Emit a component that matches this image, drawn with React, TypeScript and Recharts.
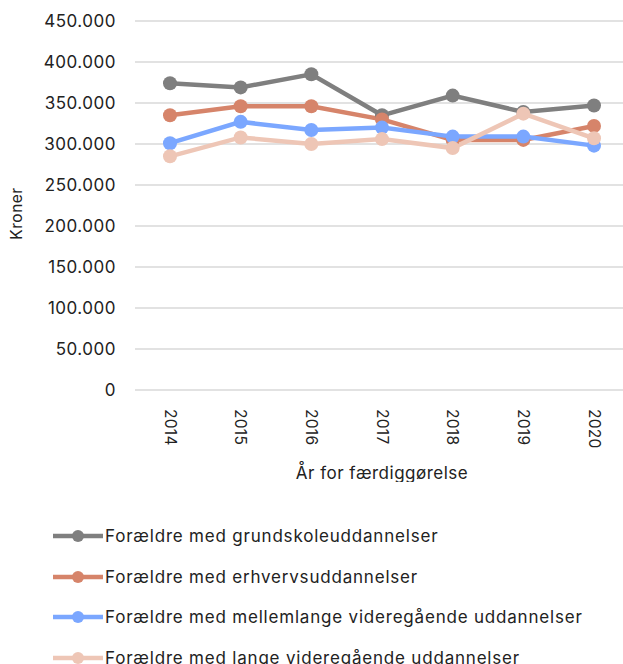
import { LineChart, Line, XAxis, YAxis, CartesianGrid, Label } from 'recharts';

const years = ['2014', '2015', '2016', '2017', '2018', '2019', '2020'];
const grundskole = [374000, 369000, 385000, 335000, 359000, 339000, 347000];
const erhverv = [335000, 346000, 346000, 330000, 305000, 305000, 322000];
const mellemlange = [301000, 327000, 317000, 320000, 309000, 309000, 298000];
const lange = [285000, 308000, 300000, 306000, 295000, 337000, 307000];
const yTicks = [0, 50000, 100000, 150000, 200000, 250000, 300000, 350000, 400000, 450000];

const SERIES = [
  { key: 'grundskole', name: 'Forældre med grundskoleuddannelser', color: '#7f7f7f', values: grundskole },
  { key: 'erhverv', name: 'Forældre med erhvervsuddannelser', color: '#d6846a', values: erhverv },
  { key: 'mellemlange', name: 'Forældre med mellemlange videregående uddannelser', color: '#7ba7ff', values: mellemlange },
  { key: 'lange', name: 'Forældre med lange videregående uddannelser', color: '#eec6b6', values: lange },
];

const data = years.map((y, i) => {
  const row: any = { year: y };
  SERIES.forEach((s) => { row[s.key] = s.values[i]; });
  return row;
});

const FONT = 'Inter, "Noto Sans", sans-serif';
const fmt = (v: number) => String(v).replace(/\B(?=(\d{3})+(?!\d))/g, '.');

function YearTick(props: any) {
  const { x, y, payload } = props;
  return (
    <text x={x} y={y} transform={`rotate(90, ${x}, ${y})`} textAnchor="start" dominantBaseline="central"
      fontSize={15.5} fill="#222" fontFamily={FONT} letterSpacing={0.3}>
      {payload.value}
    </text>
  );
}

function KronerLabel(props: any) {
  const { viewBox } = props;
  const cx = 16;
  const cy = viewBox.y + viewBox.height / 2 + 8;
  return (
    <text x={cx} y={cy} transform={`rotate(-90, ${cx}, ${cy})`} textAnchor="middle" dominantBaseline="central"
      fontSize={15.5} fill="#222" fontFamily={FONT} letterSpacing={0.5}>
      Kroner
    </text>
  );
}

export default function App() {
  return (
    <div style={{ position: 'absolute', left: 0, top: 0, width: 623, height: 664, overflow: 'hidden', background: '#fff', fontFamily: FONT }}>
      <LineChart width={640} height={482} data={data} margin={{ top: 21, right: 11, left: 0, bottom: 0 }}>
        <CartesianGrid vertical={false} stroke="#d9d9d9" strokeWidth={1.4} />
        <XAxis dataKey="year" axisLine={false} tickLine={false} height={92} tickMargin={13} tick={<YearTick />}
          interval={0} padding={{ left: 35, right: 35 }}>
          <Label value="År for færdiggørelse" position="insideBottom" offset={3} fontSize={17} fill="#222"
            fontFamily={FONT} letterSpacing={0.5} />
        </XAxis>
        <YAxis domain={[0, 450000]} ticks={yTicks} tickFormatter={fmt} axisLine={false} tickLine={false} width={135}
          tickMargin={13} tick={{ fontSize: 17, fill: '#222', fontFamily: FONT, letterSpacing: 0.5 }} interval={0}>
          <Label content={<KronerLabel />} />
        </YAxis>
        {SERIES.map((s) => (
          <Line key={s.key} dataKey={s.key} name={s.name} stroke={s.color} strokeWidth={4.5}
            dot={{ r: 7, fill: s.color, stroke: s.color, strokeWidth: 0 }} isAnimationActive={false} />
        ))}
      </LineChart>
      <div style={{ position: 'absolute', left: 53, top: 516 }}>
        {SERIES.map((s) => (
          <div key={s.key} style={{ display: 'flex', alignItems: 'center', height: 40.5 }}>
            <svg width={50} height={14} style={{ marginRight: 2 }}>
              <line x1={0} y1={7} x2={50} y2={7} stroke={s.color} strokeWidth={4.5} strokeLinecap="round" />
              <circle cx={25} cy={7} r={6} fill={s.color} />
            </svg>
            <span style={{ fontSize: 17, color: '#222', letterSpacing: 0.8, whiteSpace: 'nowrap' }}>{s.name}</span>
          </div>
        ))}
      </div>
    </div>
  );
}
